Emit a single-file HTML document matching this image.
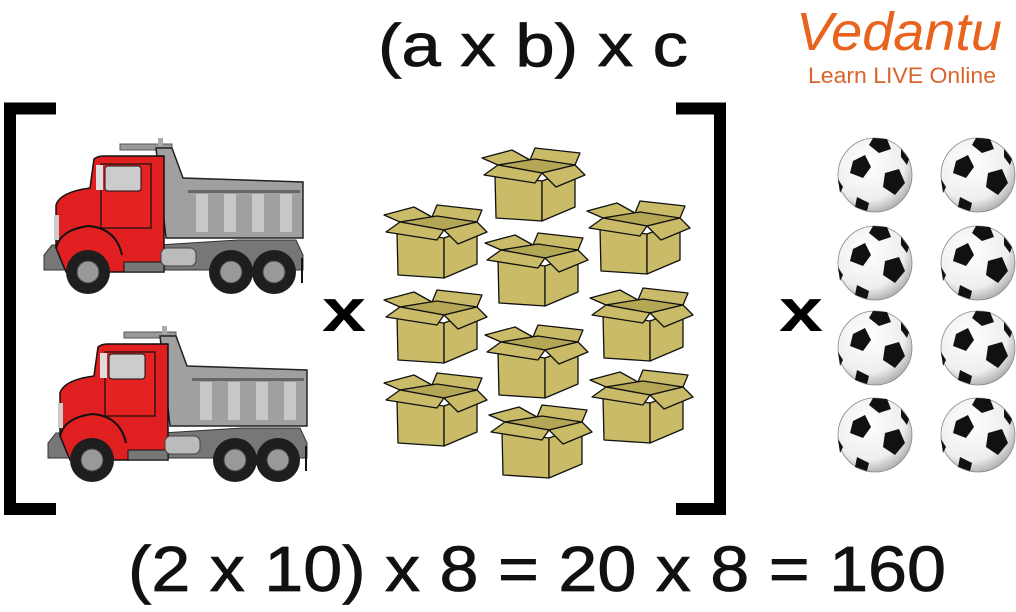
<!DOCTYPE html>
<html><head><meta charset="utf-8"><style>
html,body{margin:0;padding:0;background:#fff;}
svg{display:block;}
text{font-family:"Liberation Sans","DejaVu Sans",sans-serif;}
</style></head><body>
<svg width="1016" height="612" viewBox="0 0 1016 612" xmlns="http://www.w3.org/2000/svg">
<defs>
<radialGradient id="bg" cx="0.4" cy="0.35" r="0.7">
<stop offset="0" stop-color="#ffffff"/><stop offset="0.7" stop-color="#eeeeee"/><stop offset="1" stop-color="#a8a8a8"/>
</radialGradient>
<g id="truck">
<rect x="82" y="14" width="52" height="6" fill="#999" stroke="#555"/>
<rect x="120" y="8" width="5" height="8" fill="#aaa"/>
<polygon points="118,18 134,18 145,48 265,52 265,108 128,108" fill="#a0a0a0" stroke="#222" stroke-width="1.5"/>
<rect x="150" y="60" width="112" height="3" fill="#666"/>
<rect x="158" y="64" width="12" height="38" fill="#c8c8c8"/>
<rect x="186" y="64" width="12" height="38" fill="#c8c8c8"/>
<rect x="214" y="64" width="12" height="38" fill="#c8c8c8"/>
<rect x="242" y="64" width="12" height="38" fill="#c8c8c8"/>
<polygon points="6,125 14,115 120,115 200,110 258,110 265,125 265,140 60,140 6,140" fill="#777" stroke="#333"/>
<path d="M18,75 Q22,62 52,58 L56,29 Q60,26 65,26 L126,26 L126,142 L28,142 L18,118 Z" fill="#e02020" stroke="#111" stroke-width="1.5"/>
<rect x="63" y="34" width="50" height="64" fill="#e42222" stroke="#111" stroke-width="1.2"/>
<rect x="67" y="36" width="36" height="25" rx="3" fill="#ccc" stroke="#111"/>
<rect x="58" y="35" width="7" height="25" fill="#ddd"/>
<path d="M18,118 Q22,100 50,96 Q78,98 84,125" fill="none" stroke="#111" stroke-width="2"/>
<rect x="16" y="85" width="5" height="25" fill="#ccc"/>
<rect x="86" y="132" width="40" height="10" fill="#777" stroke="#111"/>
<rect x="123" y="118" width="35" height="18" rx="6" fill="#bbb" stroke="#444"/>
<circle cx="50" cy="142" r="22" fill="#1e1e1e"/><circle cx="50" cy="142" r="11" fill="#999" stroke="#444"/>
<circle cx="193" cy="142" r="22" fill="#1e1e1e"/><circle cx="193" cy="142" r="11" fill="#999" stroke="#444"/>
<circle cx="236" cy="142" r="22" fill="#1e1e1e"/><circle cx="236" cy="142" r="11" fill="#999" stroke="#444"/>
<rect x="263" y="128" width="2" height="25" fill="#111"/>
</g>
<g id="box" stroke="#111" stroke-width="1.3" stroke-linejoin="round" fill="#c9bb68">
<polygon points="2,13 32,5 50,15 18,20"/>
<polygon points="50,15 55,3 100,8 95,20"/>
<polygon points="18,20 55,14 95,20 62,28" fill="#b3a655"/>
<polygon points="15,30 62,36 62,76 16,73"/>
<polygon points="62,36 95,24 95,62 62,76"/>
<polygon points="4,30 18,20 62,28 55,38"/>
<polygon points="62,28 95,20 105,30 76,42"/>
</g>
<g id="ball">
<circle cx="0" cy="0" r="37" fill="url(#bg)" stroke="#888" stroke-width="0.8"/>
<polygon points="-22,-14 -10,-20 -4,-8 -12,3 -25,-2" fill="#111"/>
<polygon points="10,-2 24,-6 30,8 20,20 8,12" fill="#111"/>
<polygon points="-2,-37 12,-36 16,-26 4,-22 -6,-30" fill="#111"/>
<polygon points="-18,22 -6,28 -8,36 -20,32" fill="#111"/>
<polygon points="26,-26 34,-16 32,-10 26,-18" fill="#111"/>
<polygon points="-37,4 -32,12 -35,18" fill="#111"/>
</g>
</defs>
<text x="378" y="66" font-size="60" textLength="310" lengthAdjust="spacingAndGlyphs" fill="#111" stroke="#111" stroke-width="0.8">(a x b) x c</text>
<text x="796" y="50" font-size="54" textLength="206" lengthAdjust="spacingAndGlyphs" fill="#e8641e" font-family="Liberation Serif, serif" font-style="italic">Vedantu</text>
<text x="808" y="83" font-size="22" textLength="188" lengthAdjust="spacingAndGlyphs" fill="#d9642c">Learn LIVE Online</text>
<path d="M56,108.5 H10 V509 H56" fill="none" stroke="#000" stroke-width="12"/>
<path d="M676,108.5 H720 V509 H676" fill="none" stroke="#000" stroke-width="12"/>
<use href="#truck" x="38" y="130"/>
<use href="#truck" x="42" y="318"/>
<use href="#box" x="480" y="145"/>
<use href="#box" x="382" y="202"/>
<use href="#box" x="585" y="198"/>
<use href="#box" x="483" y="230"/>
<use href="#box" x="382" y="287"/>
<use href="#box" x="588" y="285"/>
<use href="#box" x="483" y="322"/>
<use href="#box" x="382" y="370"/>
<use href="#box" x="588" y="367"/>
<use href="#box" x="487" y="402"/>
<use href="#ball" x="875" y="175"/>
<use href="#ball" x="978" y="175"/>
<use href="#ball" x="875" y="263"/>
<use href="#ball" x="978" y="263"/>
<use href="#ball" x="875" y="348"/>
<use href="#ball" x="978" y="348"/>
<use href="#ball" x="875" y="435"/>
<use href="#ball" x="978" y="435"/>
<text x="322" y="331" font-size="60" font-weight="bold" textLength="44" lengthAdjust="spacingAndGlyphs" fill="#000">x</text>
<text x="779" y="331" font-size="60" font-weight="bold" textLength="44" lengthAdjust="spacingAndGlyphs" fill="#000">x</text>
<text x="128" y="591" font-size="64" textLength="818" lengthAdjust="spacingAndGlyphs" fill="#111" stroke="#111" stroke-width="0.8">(2 x 10) x 8 = 20 x 8 = 160</text>
</svg>
</body></html>
